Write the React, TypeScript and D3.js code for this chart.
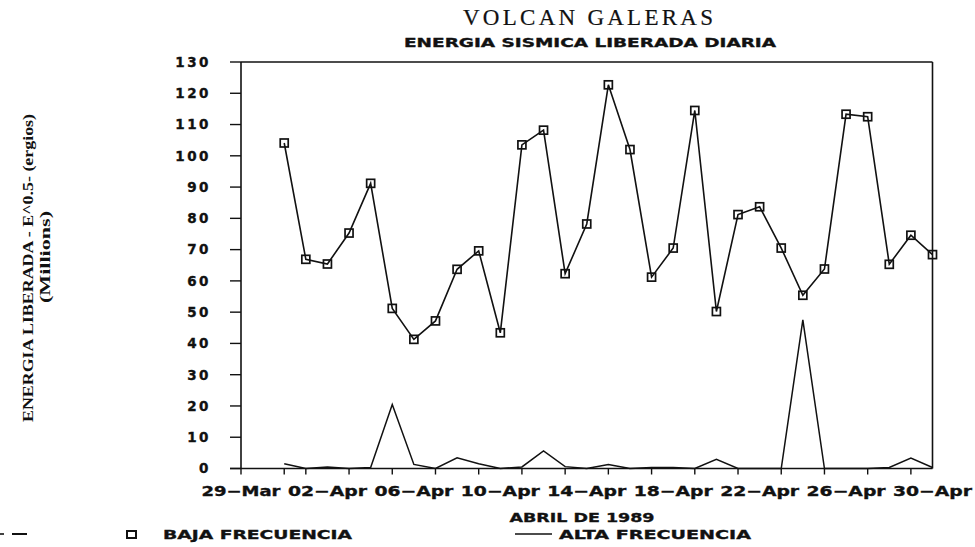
import React from "react";
import * as d3 from "d3";

const title = "VOLCAN GALERAS";
const subtitle = "ENERGIA SISMICA LIBERADA DIARIA";
const yTitle1 = "ENERGIA LIBERADA - E^0.5- (ergios)";
const yTitle2 = "(Millions)";
const xTitle = "ABRIL DE 1989";
const seriesNames = ["BAJA FRECUENCIA", "ALTA FRECUENCIA"];

const dayStrings = [
  "1989-03-31", "1989-04-01", "1989-04-02", "1989-04-03", "1989-04-04",
  "1989-04-05", "1989-04-06", "1989-04-07", "1989-04-08", "1989-04-09",
  "1989-04-10", "1989-04-11", "1989-04-12", "1989-04-13", "1989-04-14",
  "1989-04-15", "1989-04-16", "1989-04-17", "1989-04-18", "1989-04-19",
  "1989-04-20", "1989-04-21", "1989-04-22", "1989-04-23", "1989-04-24",
  "1989-04-25", "1989-04-26", "1989-04-27", "1989-04-28", "1989-04-29",
  "1989-04-30",
];

const bajaFrecuencia = [
  104.1, 66.9, 65.4, 75.3, 91.2, 51.2, 41.3, 47.2, 63.7, 69.6,
  43.4, 103.5, 108.2, 62.3, 78.2, 122.7, 102.0, 61.2, 70.5, 114.5,
  50.2, 81.2, 83.7, 70.5, 55.4, 63.8, 113.3, 112.5, 65.3, 74.6,
  68.4,
];

const altaFrecuencia = [
  1.5, 0, 0.5, 0, 0.3, 20.5, 1.3, 0, 3.4, 1.5,
  0, 0.5, 5.6, 0.6, 0, 1.3, 0, 0.3, 0.3, 0,
  2.9, 0, 0, 0, 47.5, 0, 0, 0, 0.3, 3.3,
  0.3,
];

const yTicks = [0, 10, 20, 30, 40, 50, 60, 70, 80, 90, 100, 110, 120, 130];
const xDomain = ["1989-03-29", "1989-04-30"];
const xLabelDates = [
  "1989-03-29", "1989-04-02", "1989-04-06", "1989-04-10", "1989-04-14",
  "1989-04-18", "1989-04-22", "1989-04-26", "1989-04-30",
];
const xLabels = [
  "29\u2212Mar", "02\u2212Apr", "06\u2212Apr", "10\u2212Apr", "14\u2212Apr",
  "18\u2212Apr", "22\u2212Apr", "26\u2212Apr", "30\u2212Apr",
];

const parse = (s: string) => new Date(s + "T00:00:00Z");

export default function App() {
  const W = 975;
  const H = 547;
  const left = 241;
  const right = 932.5;
  const top = 62;
  const bottom = 468.5;
  const ink = "#111";
  const plotFont = "'DejaVu Sans', sans-serif";
  const heavy = { stroke: ink, strokeWidth: 0.35 };

  const x = d3.scaleUtc().domain(xDomain.map(parse)).range([left, right]);
  const y = d3.scaleLinear().domain([0, 130]).range([bottom, top]);

  const days = dayStrings.map(parse);
  const minorTicks = d3.utcDay
    .every(2)!
    .range(parse(xDomain[0]), d3.utcDay.offset(parse(xDomain[1]), 1));

  const line = d3
    .line<number>()
    .x((_, i) => x(days[i]))
    .y((d) => y(d));

  const sq = 8;

  return (
    <svg
      width={W}
      height={H}
      viewBox={`0 0 ${W} ${H}`}
      style={{ position: "absolute", left: 0, top: 0, background: "#fff" }}
    >
      <rect x={0} y={0} width={W} height={H} fill="#fff" />

      {/* titles */}
      <text
        x={588}
        y={25}
        textAnchor="middle"
        fontFamily="'Liberation Serif', serif"
        fontSize={23}
        textLength={250}
        lengthAdjust="spacing"
        fill={ink}
        stroke={ink}
        strokeWidth={0.2}
      >
        {title}
      </text>
      <text
        x={590}
        y={47}
        textAnchor="middle"
        fontFamily={plotFont}
        fontWeight="bold"
        fontSize={12}
        textLength={372}
        lengthAdjust="spacingAndGlyphs"
        fill={ink}
        {...heavy}
      >
        {subtitle}
      </text>

      {/* frame */}
      <line x1={left} x2={right} y1={top} y2={top} stroke={ink} strokeWidth={1.6} />
      <line x1={right} x2={right} y1={top} y2={bottom} stroke={ink} strokeWidth={1.6} />
      <line x1={left} x2={left} y1={top} y2={bottom} stroke={ink} strokeWidth={1.6} />
      <line x1={left - 11} x2={right} y1={bottom} y2={bottom} stroke={ink} strokeWidth={1.6} />

      {/* y ticks */}
      {yTicks.map((t) => (
        <g key={"y" + t}>
          <line x1={left - 11} x2={left} y1={y(t)} y2={y(t)} stroke={ink} strokeWidth={1.4} />
          <text
            x={211}
            y={y(t)}
            dy="0.36em"
            textAnchor="end"
            fontFamily={plotFont}
            fontWeight="bold"
            fontSize={13.5}
            letterSpacing={2.5}
            fill={ink}
            {...heavy}
          >
            {t}
          </text>
        </g>
      ))}

      {/* x ticks */}
      {minorTicks.map((d, i) => (
        <line
          key={"xt" + i}
          x1={x(d)}
          x2={x(d)}
          y1={bottom}
          y2={bottom + 6}
          stroke={ink}
          strokeWidth={1.4}
        />
      ))}
      {xLabelDates.map((s, i) => (
        <text
          key={"xl" + i}
          x={x(parse(s))}
          y={496}
          textAnchor="middle"
          fontFamily={plotFont}
          fontWeight="bold"
          fontSize={13.5}
          textLength={79}
          lengthAdjust="spacingAndGlyphs"
          fill={ink}
          {...heavy}
        >
          {xLabels[i]}
        </text>
      ))}

      {/* axis titles */}
      <text
        transform={`translate(33,268) rotate(-90)`}
        textAnchor="middle"
        fontFamily="'Liberation Serif', serif"
        fontWeight="bold"
        fontSize={14}
        textLength={308}
        lengthAdjust="spacingAndGlyphs"
        fill={ink}
      >
        {yTitle1}
      </text>
      <text
        transform={`translate(50,257) rotate(-90)`}
        textAnchor="middle"
        fontFamily="'Liberation Serif', serif"
        fontWeight="bold"
        fontSize={14}
        textLength={92}
        lengthAdjust="spacingAndGlyphs"
        fill={ink}
      >
        {yTitle2}
      </text>
      <text
        x={582}
        y={522}
        textAnchor="middle"
        fontFamily={plotFont}
        fontWeight="bold"
        fontSize={13}
        textLength={145}
        lengthAdjust="spacingAndGlyphs"
        fill={ink}
        {...heavy}
      >
        {xTitle}
      </text>

      {/* series */}
      <path d={line(altaFrecuencia) || ""} fill="none" stroke={ink} strokeWidth={1.5} />
      <path d={line(bajaFrecuencia) || ""} fill="none" stroke={ink} strokeWidth={1.6} />
      {bajaFrecuencia.map((v, i) => (
        <rect
          key={"sq" + i}
          x={x(days[i]) - sq / 2}
          y={y(v) - sq / 2}
          width={sq}
          height={sq}
          fill="none"
          stroke={ink}
          strokeWidth={1.7}
        />
      ))}

      {/* legend */}
      <line x1={0} x2={4} y1={534} y2={534} stroke={ink} strokeWidth={1.6} />
      <line x1={12} x2={27} y1={534} y2={534} stroke={ink} strokeWidth={2} />
      <rect x={127} y={531} width={9} height={7} fill="none" stroke={ink} strokeWidth={2} />
      <text
        x={163}
        y={539}
        fontFamily={plotFont}
        fontWeight="bold"
        fontSize={13}
        textLength={189}
        lengthAdjust="spacingAndGlyphs"
        fill={ink}
        {...heavy}
      >
        {seriesNames[0]}
      </text>
      <line x1={515} x2={552} y1={534} y2={534} stroke={ink} strokeWidth={1.6} />
      <text
        x={559}
        y={539}
        fontFamily={plotFont}
        fontWeight="bold"
        fontSize={13}
        textLength={192}
        lengthAdjust="spacingAndGlyphs"
        fill={ink}
        {...heavy}
      >
        {seriesNames[1]}
      </text>
    </svg>
  );
}
